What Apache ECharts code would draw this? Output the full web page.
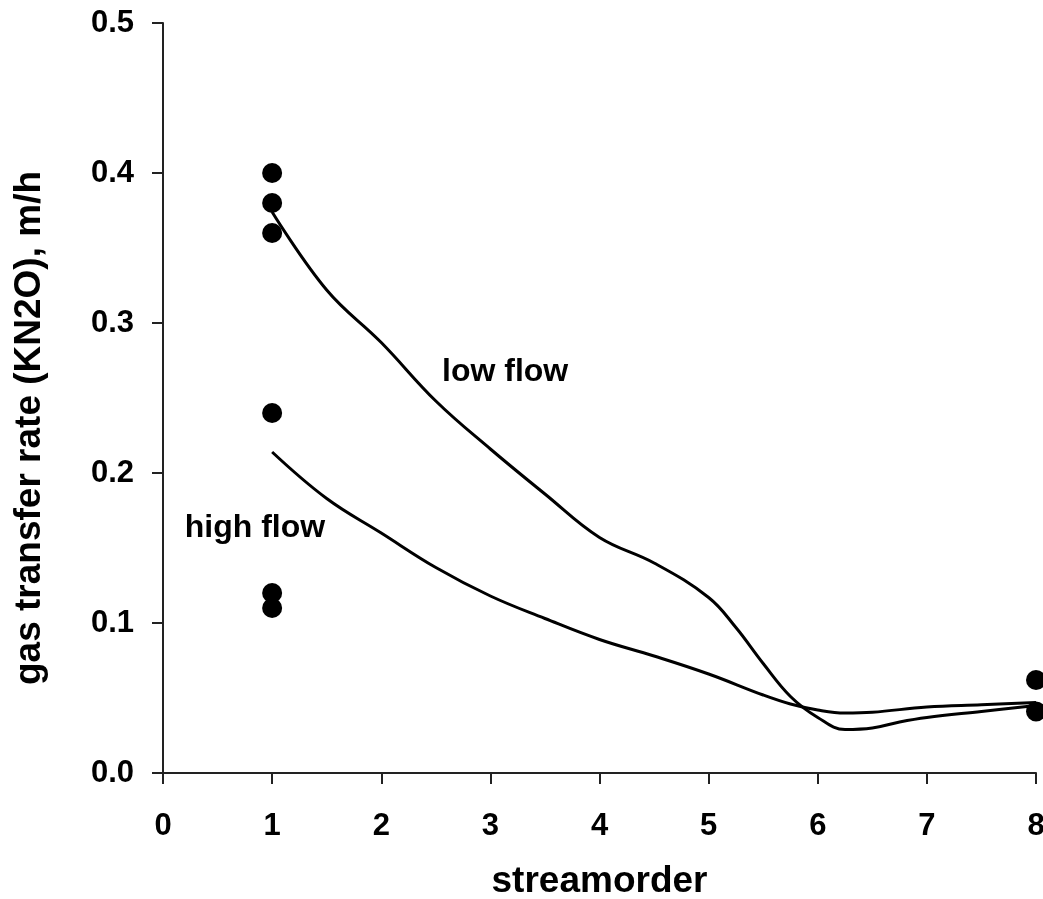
<!DOCTYPE html>
<html lang="en">

<head>
    <meta charset="UTF-8">
    <title>gas transfer rate vs streamorder</title>
    <script src="https://cdn.jsdelivr.net/npm/echarts@6/dist/echarts.min.js"></script>
    <style>
        html, body { margin: 0; padding: 0; background: #fff; }
        #chart { width: 1043px; height: 899px; }
    </style>
</head>

<body>
    <div id="chart"></div>

<script type="text/javascript">
    // measured points (streamorder 1 and 8)
    var dotOrder = [1, 1, 1, 1, 1, 1, 8, 8];
    var dotRate = [0.40, 0.38, 0.36, 0.24, 0.12, 0.11, 0.062, 0.041];

    // low flow curve
    var lowOrder = [1, 1.5, 2, 2.5, 3, 3.5, 4, 4.5, 5, 5.25, 5.5, 5.75, 6, 6.25, 6.5, 6.75, 7, 7.5, 8];
    var lowRate = [0.374, 0.322, 0.287, 0.248, 0.216, 0.186, 0.157, 0.140, 0.117, 0.097, 0.073, 0.051, 0.037, 0.029, 0.030, 0.034, 0.037, 0.041, 0.045];

    // high flow curve
    var highOrder = [1, 1.5, 2, 2.5, 3, 3.5, 4, 4.5, 5, 5.5, 5.75, 6, 6.25, 6.5, 7, 7.5, 8];
    var highRate = [0.214, 0.183, 0.160, 0.137, 0.118, 0.103, 0.089, 0.078, 0.066, 0.052, 0.046, 0.042, 0.040, 0.0405, 0.044, 0.0455, 0.047];

    // curve labels
    var labelText = ['low flow', 'high flow'];
    var labelPos = [[3.135, 0.267], [0.843, 0.163]];

    function pairs(xs, ys) {
        var out = [];
        for (var i = 0; i < xs.length; i++) {
            out.push([xs[i], ys[i]]);
        }
        return out;
    }

    var font = '"Liberation Sans", Arial, sans-serif';
    var myChart = echarts.init(document.getElementById('chart'));

    var lineStyle = { color: '#000', width: 3 };

    var option = {
        animation: false,
        backgroundColor: '#fff',
        // fixed plot box, labels may run to the page edge
        grid: { left: 163, right: 7, top: 23, bottom: 126, containLabel: false, outerBoundsMode: 'none' },
        xAxis: {
            type: 'value',
            min: 0,
            max: 8,
            interval: 1,
            name: 'streamorder',
            nameLocation: 'middle',
            nameGap: 90,
            nameTextStyle: { fontFamily: font, fontWeight: 'bold', fontSize: 37, color: '#000' },
            splitLine: { show: false },
            axisLine: { lineStyle: { color: '#222', width: 2 } },
            axisTick: { length: 11, lineStyle: { color: '#222', width: 2 } },
            axisLabel: { margin: 38, fontFamily: font, fontWeight: 'bold', fontSize: 31, color: '#000' }
        },
        yAxis: {
            type: 'value',
            min: 0,
            max: 0.5,
            interval: 0.1,
            name: 'gas transfer rate (KN2O), m/h',
            nameLocation: 'middle',
            nameGap: 115,
            nameTextStyle: { fontFamily: font, fontWeight: 'bold', fontSize: 37, color: '#000', padding: [0, 60, 0, 0] },
            splitLine: { show: false },
            axisLine: { lineStyle: { color: '#222', width: 2 } },
            axisTick: { length: 11, lineStyle: { color: '#222', width: 2 } },
            axisLabel: {
                margin: 29,
                fontFamily: font, fontWeight: 'bold', fontSize: 31, color: '#000',
                formatter: function(v) { return v.toFixed(1); }
            }
        },
        series: [{
            type: 'line',
            data: pairs(lowOrder, lowRate),
            smooth: 0.4,
            showSymbol: false,
            lineStyle: lineStyle
        }, {
            type: 'line',
            data: pairs(highOrder, highRate),
            smooth: 0.4,
            showSymbol: false,
            lineStyle: lineStyle
        }, {
            type: 'scatter',
            data: pairs(dotOrder, dotRate),
            symbolSize: 20,
            itemStyle: { color: '#000', opacity: 1 },
            z: 5
        }, {
            type: 'scatter',
            symbolSize: 0,
            itemStyle: { opacity: 1 },
            data: labelPos.map(function(p, i) {
                return { value: p, name: labelText[i] };
            }),
            label: {
                show: true,
                position: 'inside',
                formatter: '{b}',
                fontFamily: font, fontWeight: 'bold', fontSize: 32, color: '#000'
            }
        }]
    };

    myChart.setOption(option);
</script>
</body>

</html>
